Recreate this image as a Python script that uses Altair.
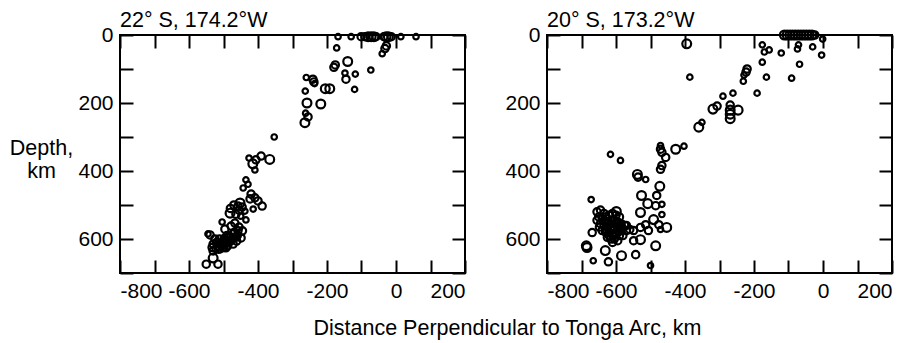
import altair as alt
import pandas as pd

# ---- Data (distance km, depth km, size class) ----
left_x = [-168, -130, -101, -90, -81, -72, -64, -58, -35, -29, -22, -14, 14, 58,
          -28, -32, -40, -172, -140, -176, -180, -73, -148, -118, -145, -120,
          -260, -241, -238, -236, -263, -205, -192, -258, -218, -262, -255, -264, -353,
          -426, -406, -391, -366, -415, -409, -435, -429, -443, -420, -409, -423, -400,
          -388, -414, -438, -452, -458, -446, -481, -464, -450, -435, -504, -496, -478,
          -467, -458, -445, -449, -472, -487, -501, -516, -530, -539, -525, -510, -493,
          -472, -462, -530, -530, -550, -516, -545, -500, -485, -520, -505, -490, -460,
          -475, -470, -480, -455, -512, -497, -482, -468, -455, -508, -492, -478, -465,
          -515, -500, -488, -533, -522]
left_depth = [5, 5, 5, 5, 5, 5, 5, 5, 5, 5, 5, 5, 5, 5,
              32, 40, 55, 38, 78, 88, 95, 103, 112, 115, 130, 160,
              125, 130, 138, 143, 165, 158, 158, 200, 203, 230, 241, 258, 300,
              362, 367, 356, 366, 379, 397, 426, 439, 450, 468, 479, 482, 488,
              503, 512, 518, 494, 503, 506, 524, 527, 533, 544, 550, 571, 562,
              553, 576, 576, 597, 585, 597, 612, 621, 615, 588, 600, 629, 626,
              615, 606, 635, 656, 674, 674, 585, 605, 610, 610, 620, 590, 590,
              600, 500, 510, 515, 600, 598, 592, 580, 565, 615, 612, 605, 595,
              630, 625, 620, 625, 628]
left_mag = [1, 1, 2, 2, 3, 3, 3, 2, 2, 3, 3, 2, 1, 1,
            2, 2, 1, 1, 3, 2, 2, 1, 1, 1, 2, 1,
            1, 2, 2, 1, 1, 3, 3, 3, 3, 1, 2, 3, 1,
            1, 2, 2, 3, 3, 1, 1, 1, 1, 2, 2, 2, 2,
            2, 1, 1, 3, 2, 2, 3, 2, 1, 1, 1, 2, 2,
            2, 2, 2, 2, 2, 2, 2, 2, 2, 2, 2, 2, 2,
            2, 2, 2, 3, 2, 2, 1, 2, 2, 2, 2, 2, 2,
            2, 2, 2, 2, 2, 2, 2, 2, 2, 2, 2, 2, 2,
            2, 2, 2, 2, 2]

right_x = [-112, -104, -96, -88, -80, -72, -64, -56, -48, -40, -32, -24,
           -1, -4, -30, -71, -74, -68, -91, -121, -176, -170, -156, -176, -164, -191,
           -220, -223, -229, -231, -261, -290, -307, -319, -269, -269, -269, -269, -246,
           -351, -360, -386, -395,
           -403, -427, -471, -471, -467, -456, -467, -471, -616, -587, -538, -536, -514,
           -473, -482, -526, -508, -485, -467, -529, -491, -467, -476, -453, -471, -514,
           -529, -506, -549, -529, -549, -485, -543, -584, -622, -666, -631, -686, -684,
           -669, -672, -500, -570, -560, -599,
           -655, -645, -635, -650, -640, -630, -620, -610, -600, -590, -625, -615, -605,
           -595, -585, -575, -645, -635, -625, -615, -605, -595, -585, -640, -630, -620,
           -610, -600, -590, -625, -615, -605, -595, -610, -580, -570, -655, -600, -590,
           -620, -648, -632, -612, -598, -582, -628, -608, -592]
right_depth = [0, 0, 0, 0, 0, 0, 0, 0, 0, 0, 0, 0,
               12, 59, 35, 29, 41, 86, 127, 53, 29, 50, 44, 80, 124, 171,
               100, 109, 118, 136, 171, 180, 209, 218, 206, 221, 233, 246, 221,
               257, 271, 124, 26,
               327, 336, 325, 336, 345, 360, 384, 395, 351, 369, 410, 418, 425,
               445, 472, 472, 496, 502, 498, 522, 543, 528, 558, 566, 572, 558,
               566, 575, 575, 602, 605, 620, 646, 649, 667, 664, 634, 620, 625,
               581, 484, 678, 560, 572, 519,
               520, 515, 525, 535, 540, 535, 530, 525, 530, 535, 550, 545, 545,
               550, 555, 560, 555, 560, 565, 565, 570, 570, 575, 575, 580, 580,
               585, 585, 590, 595, 600, 600, 605, 610, 590, 575, 545, 555, 560,
               590, 565, 548, 555, 562, 568, 572, 592, 578]
right_mag = [3, 3, 3, 3, 3, 3, 3, 3, 3, 3, 3, 2,
             1, 1, 1, 1, 1, 1, 1, 1, 1, 1, 1, 1, 1, 1,
             2, 2, 1, 1, 1, 1, 2, 3, 2, 3, 3, 3, 3,
             1, 3, 1, 3,
             1, 3, 1, 2, 2, 2, 2, 2, 1, 1, 3, 2, 1,
             3, 2, 3, 3, 2, 1, 3, 3, 1, 2, 3, 1, 2,
             2, 2, 2, 3, 2, 3, 2, 3, 2, 1, 3, 3, 3,
             2, 1, 1, 2, 2, 3,
             2, 2, 2, 2, 2, 2, 2, 2, 2, 2, 2, 2, 2,
             2, 2, 2, 2, 2, 2, 2, 2, 2, 2, 2, 2, 2,
             2, 2, 2, 2, 2, 2, 2, 2, 2, 2, 2, 2, 2,
             2, 2, 2, 2, 2, 2, 2, 2, 2]

x_ticks = list(range(-800, 201, 100))
y_ticks = list(range(0, 701, 100))
left_title = "22° S, 174.2°W"
right_title = "20° S, 173.2°W"
x_title = "Distance Perpendicular to Tonga Arc, km"
y_title = ["Depth,", "km"]

FONT = "Liberation Sans"
LABEL_EXPR = "datum.value % 200 == 0 ? '' + datum.value : ''"
W, H = 345, 238
TICK = 13


def panel(xs, ds, ms, title, first):
    df = pd.DataFrame({"x": xs, "depth": ds, "mag": ms})
    xscale = alt.Scale(domain=[-800, 200], nice=False, zero=False)
    yscale = alt.Scale(domain=[0, 700], reverse=True, nice=False, zero=False)

    common = dict(tickSize=TICK, tickWidth=2, tickColor="black", domain=False, grid=False,
                  labelFont=FONT, labelFontSize=21, labelColor="black",
                  titleFont=FONT, titleFontSize=21.5, titleFontWeight="normal",
                  titleColor="black", offset=-TICK)

    if first:
        x_bottom = alt.Axis(orient="bottom", values=x_ticks, labelExpr=LABEL_EXPR,
                            labelPadding=7, title=x_title, titleX=387, titleY=74,
                            titleAlign="center", titleBaseline="alphabetic", **common)
        y_left = alt.Axis(orient="left", values=y_ticks, labelExpr=LABEL_EXPR,
                          labelPadding=7, title=y_title, titleAngle=0, titleX=-92,
                          titleY=119, titleAlign="center", titleBaseline="alphabetic",
                          titleLineHeight=23, **common)
    else:
        x_bottom = alt.Axis(orient="bottom", values=x_ticks, labelExpr=LABEL_EXPR,
                            labelPadding=7, title=None, **common)
        y_left = alt.Axis(orient="left", values=y_ticks, labelExpr=LABEL_EXPR,
                          labelPadding=7, title=None, **common)

    x_top = alt.Axis(orient="top", values=x_ticks, labels=False, title=None, **common)
    y_right = alt.Axis(orient="right", values=y_ticks, labels=False, title=None, **common)

    pts = alt.Chart(df).mark_point(shape="circle", filled=False, color="black",
                                   strokeWidth=2.2, opacity=1).encode(
        x=alt.X("x:Q", scale=xscale, axis=x_bottom),
        y=alt.Y("depth:Q", scale=yscale, axis=y_left),
        size=alt.Size("mag:Q", scale=alt.Scale(domain=[1, 3], range=[30, 78]), legend=None),
    )
    frame_axes = alt.Chart(df).mark_point(opacity=0).encode(
        x=alt.X("x:Q", scale=xscale, axis=x_top),
        y=alt.Y("depth:Q", scale=yscale, axis=y_right),
    )
    return alt.layer(pts, frame_axes).resolve_axis(x="independent", y="independent").properties(
        width=W, height=H,
        title=alt.TitleParams(text=title, anchor="start", frame="group", font=FONT,
                              fontSize=21.5, fontWeight="normal", color="black", offset=-7),
    )


chart = alt.hconcat(
    panel(left_x, left_depth, left_mag, left_title, True),
    panel(right_x, right_depth, right_mag, right_title, False),
    spacing=82, bounds="flush",
).properties(
    padding={"left": 8, "top": 8, "right": 5, "bottom": 3},
    background="white",
).configure_view(stroke="black", strokeWidth=2)

chart.save("out.html", embed_options={"renderer": "svg", "actions": False})
